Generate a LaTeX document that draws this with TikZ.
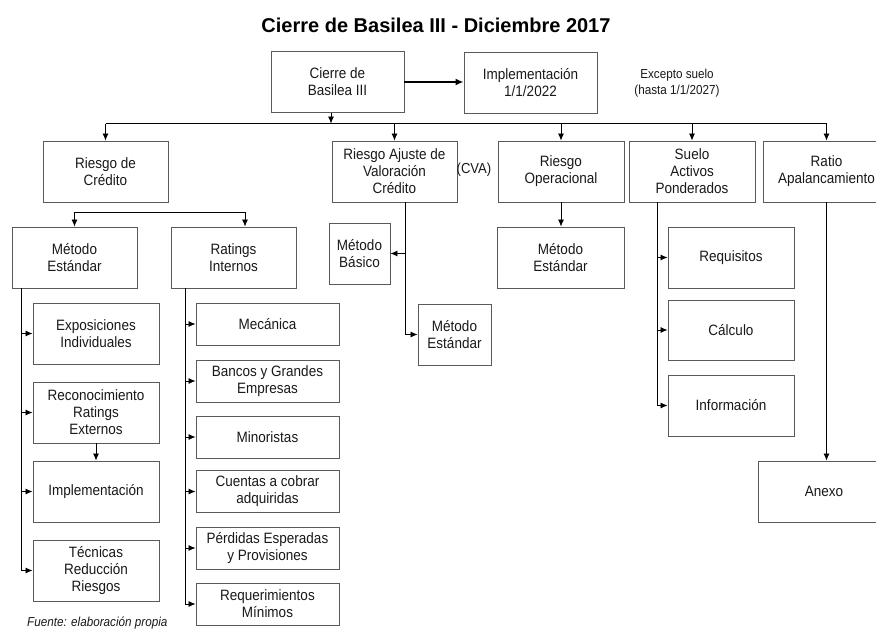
\documentclass[tikz,border=0pt]{standalone}
\usepackage{fontspec}
\setmainfont{Liberation Sans}[FakeStretch=0.9]
\newfontfamily\titlefont{Liberation Sans}
\usetikzlibrary{arrows.meta}

\begin{document}
\begin{tikzpicture}[x=1pt,y=-1pt,
  box/.style={draw=black!65, line width=0.9pt, rectangle, align=center,
    inner sep=0pt, text=black!90, font=\fontsize{15}{17}\selectfont},
  wh/.style 2 args={minimum width=#1pt, minimum height=#2pt},
  tip/.tip={Latex[length=7pt,width=6pt]},
  link/.style={line width=0.8pt, -tip},
  wire/.style={line width=0.8pt},
  note/.style={text=black!90, font=\fontsize{13}{15.5}\selectfont, align=center, inner sep=0pt}]
\useasboundingbox (0,0) rectangle (876,630);
\fill[white] (0,0) rectangle (876,630);

% title
\node[inner sep=0pt, font=\titlefont\bfseries\fontsize{20}{24}\selectfont] (title) at (436,25)
  {Cierre de Basilea III - Diciembre 2017};

% top level
\node[box, wh={133}{61}] (cierre) at (337.5,82) {Cierre de\\Basilea III};
\node[box, wh={133}{61}] (impl) at (530.5,82.5) {Implementación\\1/1/2022};
\node[note] (excepto) at (677,83) {Excepto suelo\\(hasta 1/1/2027)};

% main branches
\node[box, wh={125}{61}] (rc) at (105.5,171.5) {Riesgo de\\Crédito};
\node[box, wh={125}{61}] (cva) at (394.5,171.5) {Riesgo Ajuste de\\Valoración\\Crédito};
\node[note, font=\fontsize{14.5}{16}\selectfont] (cvatag) at (474,170) {(CVA)};
\node[box, wh={126}{61}] (rop) at (561,171.5) {Riesgo\\Operacional};
\node[box, wh={126}{61}] (suelo) at (692,171.5) {Suelo\\Activos\\Ponderados};
\node[box, wh={127}{61}] (ratio) at (826.5,171.5) {Ratio\\Apalancamiento};

% credit risk
\node[box, wh={125}{61}] (me) at (74.5,257.5) {Método\\Estándar};
\node[box, wh={125}{61}] (ri) at (233.5,257.5) {Ratings\\Internos};

\node[box, wh={126}{61}] (exp) at (96,333.5) {Exposiciones\\Individuales};
\node[box, wh={126}{61}] (rec) at (96,412.5) {Reconocimiento\\Ratings\\Externos};
\node[box, wh={126}{61}] (impst) at (96,491.5) {Implementación};
\node[box, wh={126}{61}] (tec) at (96,570.5) {Técnicas\\Reducción\\Riesgos};

\node[box, wh={143}{42}] (mec) at (267.5,324) {Mecánica};
\node[box, wh={143}{42}] (ban) at (267.5,381) {Bancos y Grandes\\Empresas};
\node[box, wh={143}{42}] (min) at (267.5,437) {Minoristas};
\node[box, wh={143}{42}] (cue) at (267.5,491.5) {Cuentas a cobrar\\adquiridas};
\node[box, wh={143}{42}] (per) at (267.5,548) {Pérdidas Esperadas\\y Provisiones};
\node[box, wh={143}{42}] (rqm) at (267.5,604) {Requerimientos\\Mínimos};

% CVA methods
\node[box, wh={61}{61}] (mb) at (359.5,253.5) {Método\\Básico};
\node[box, wh={73}{61}] (mecva) at (454.5,334.5) {Método\\Estándar};

% operational risk
\node[box, wh={127}{61}] (mop) at (560.5,257.5) {Método\\Estándar};

% output floor
\node[box, wh={126}{61}] (rqs) at (731,257.5) {Requisitos};
\node[box, wh={126}{60}] (calc) at (731,330) {Cálculo};
\node[box, wh={126}{61}] (info) at (731,405.5) {Información};

% leverage ratio
\node[box, wh={132}{61}] (anexo) at (824,491.5) {Anexo};

% source
\node[anchor=west, inner sep=0pt, text=black!90, font=\itshape\fontsize{13}{15}\selectfont]
  (fuente) at (27,623) {Fuente: elaboración propia};

% connectors: top level
\draw[line width=2pt, -{Latex[length=8pt,width=7pt]}] (cierre.east) -- (impl.west |- cierre.east);
\coordinate (bus) at (0,123.5);
\draw[link] ([xshift=-6.5pt]cierre.south) -- ([xshift=-6.5pt]cierre.south |- bus);
\draw[wire] (rc.north |- bus) -- (ratio.north |- bus);
\foreach \n in {rc,cva,rop,suelo,ratio}
  \draw[link] (\n.north |- bus) -- (\n.north);

% credit risk approaches
\draw[wire, tip-tip] (me.north) -- ++(0,-14) -| ([xshift=11.5pt]ri.north);

\coordinate (msp) at ([xshift=10pt]me.south west);
\foreach \n in {exp,rec,impst,tec}
  \draw[link] (msp) |- (\n.west);
\draw[link] (rec.south) -- (impst.north);

\coordinate (rsp) at ([xshift=15pt]ri.south west);
\foreach \n in {mec,ban,min,cue,per,rqm}
  \draw[link] (rsp) |- (\n.west);

% CVA approaches
\coordinate (csp) at ([xshift=10.5pt]cva.south);
\draw[link] (csp) |- (mecva.west);
\draw[link] (csp |- mb.east) -- (mb.east);

% operational risk
\draw[link] (rop.south) -- (rop.south |- mop.north);

% output floor parts
\coordinate (ssp) at ([xshift=-35pt]suelo.south);
\foreach \n in {rqs,calc,info}
  \draw[link] (ssp) |- (\n.west);

% leverage ratio annex
\draw[link] (ratio.south) -- (ratio.south |- anexo.north);
\end{tikzpicture}
\end{document}
